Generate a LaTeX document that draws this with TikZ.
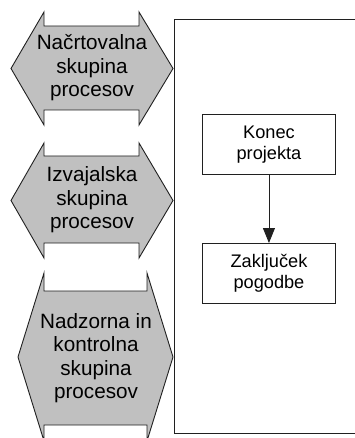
\documentclass[tikz,border=0pt]{standalone}
\usepackage{fontspec}
\setmainfont{Liberation Sans}
\usetikzlibrary{arrows.meta}
\definecolor{groupfill}{HTML}{C0C0C0}
\definecolor{edge}{HTML}{202020}
\tikzset{
  groupshape/.style={fill=groupfill, draw=edge, line width=0.9pt, line join=miter},
  grouptext/.style={align=center, inner sep=0pt, font=\fontsize{20.7}{23.5}\selectfont},
  stepbox/.style={draw=edge, line width=0.9pt, fill=white, minimum width=133pt, minimum height=60pt,
                  align=center, inner sep=0pt, font=\fontsize{18.2}{21.5}\selectfont},
  frame/.style={draw=edge, line width=0.9pt},
  flow/.style={draw=edge, line width=0.9pt, -{Triangle[length=15pt,width=12pt]}}
}
\begin{document}
\begin{tikzpicture}[x=1pt,y=-1pt]
\useasboundingbox (0,0) rectangle (355,438);
% process groups: double-pointed shapes with open notches top and bottom
\path[groupshape] (44,12) -- (44,26) -- (139,26) -- (139,12) -- (173,68.5) -- (139,125)
  -- (139,110) -- (44,110) -- (44,125) -- (11,68.5) -- cycle;
\node[grouptext] (plan) at (92,68) {Načrtovalna\\skupina\\procesov};

\path[groupshape] (44,143) -- (44,156) -- (139,156) -- (139,143) -- (173,200.5) -- (139,258)
  -- (139,243) -- (44,243) -- (44,258) -- (11,200.5) -- cycle;
\node[grouptext] (exec) at (92,200) {Izvajalska\\skupina\\procesov};

\path[groupshape] (44,273) -- (44,291) -- (147,291) -- (147,273) -- (173,357) -- (147,441)
  -- (147,425) -- (44,425) -- (44,441) -- (18,357) -- cycle;
\node[grouptext] (ctrl) at (96,358) {Nadzorna in\\kontrolna\\skupina\\procesov};

% closing-process frame
\draw[frame] (355,19) -- (174,19) -- (174,433) -- (355,433);

\node[stepbox, anchor=north west] (konec) at (202,114) {Konec\\projekta};
\node[stepbox, anchor=north west] (zakljucek) at (202,243) {Zaključek\\pogodbe};
\draw[flow] (konec) -- (zakljucek);
\end{tikzpicture}
\end{document}
